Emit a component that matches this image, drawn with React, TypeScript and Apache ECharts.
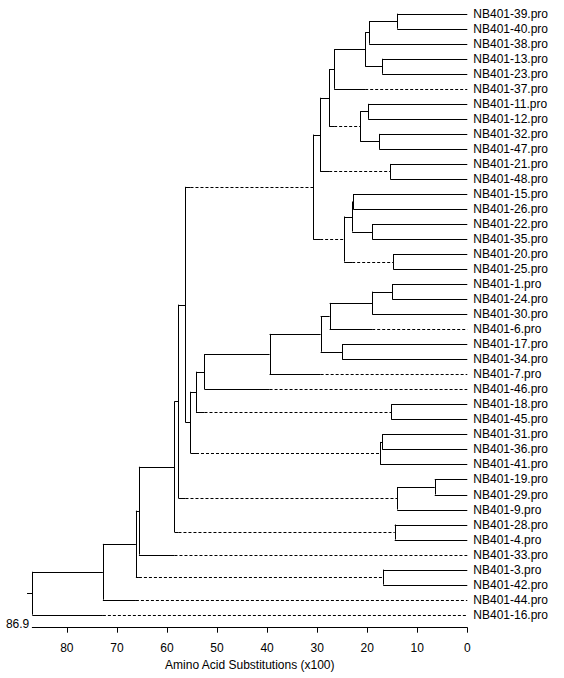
import React, { useEffect, useRef } from "react";
import * as echarts from "echarts";

// Leaf labels, top to bottom
const leaves = [
  "NB401-39.pro", "NB401-40.pro", "NB401-38.pro", "NB401-13.pro", "NB401-23.pro",
  "NB401-37.pro", "NB401-11.pro", "NB401-12.pro", "NB401-32.pro", "NB401-47.pro",
  "NB401-21.pro", "NB401-48.pro", "NB401-15.pro", "NB401-26.pro", "NB401-22.pro",
  "NB401-35.pro", "NB401-20.pro", "NB401-25.pro", "NB401-1.pro", "NB401-24.pro",
  "NB401-30.pro", "NB401-6.pro", "NB401-17.pro", "NB401-34.pro", "NB401-7.pro",
  "NB401-46.pro", "NB401-18.pro", "NB401-45.pro", "NB401-31.pro", "NB401-36.pro",
  "NB401-41.pro", "NB401-19.pro", "NB401-29.pro", "NB401-9.pro", "NB401-28.pro",
  "NB401-4.pro", "NB401-33.pro", "NB401-3.pro", "NB401-42.pro", "NB401-44.pro",
  "NB401-16.pro",
];

// Internal nodes: id, children, height (amino acid substitutions x100)
const nodeIds = [
  "A", "B", "C", "D", "E", "F", "G", "H", "I", "J", "K", "L", "M", "N", "O", "P", "Q",
  "R", "S", "T", "U", "V", "W", "X", "Y", "Z", "AA", "AB", "AC", "AD", "AE", "AF", "AG",
  "AH", "AI", "AJ", "AK", "AL", "AM", "ROOT",
];
const nodeChildren: [string, string][] = [
  ["NB401-39.pro", "NB401-40.pro"], // A
  ["A", "NB401-38.pro"], // B
  ["NB401-13.pro", "NB401-23.pro"], // C
  ["B", "C"], // D
  ["D", "NB401-37.pro"], // E
  ["NB401-11.pro", "NB401-12.pro"], // F
  ["NB401-32.pro", "NB401-47.pro"], // G
  ["F", "G"], // H
  ["E", "H"], // I
  ["NB401-21.pro", "NB401-48.pro"], // J
  ["I", "J"], // K
  ["NB401-15.pro", "NB401-26.pro"], // L
  ["NB401-22.pro", "NB401-35.pro"], // M
  ["L", "M"], // N
  ["NB401-20.pro", "NB401-25.pro"], // O
  ["N", "O"], // P
  ["K", "P"], // Q
  ["NB401-1.pro", "NB401-24.pro"], // R
  ["R", "NB401-30.pro"], // S
  ["S", "NB401-6.pro"], // T
  ["NB401-17.pro", "NB401-34.pro"], // U
  ["T", "U"], // V
  ["V", "NB401-7.pro"], // W
  ["W", "NB401-46.pro"], // X
  ["NB401-18.pro", "NB401-45.pro"], // Y
  ["X", "Y"], // Z
  ["NB401-31.pro", "NB401-36.pro"], // AA
  ["AA", "NB401-41.pro"], // AB
  ["Z", "AB"], // AC
  ["Q", "AC"], // AD
  ["NB401-19.pro", "NB401-29.pro"], // AE
  ["AE", "NB401-9.pro"], // AF
  ["AD", "AF"], // AG
  ["NB401-28.pro", "NB401-4.pro"], // AH
  ["AG", "AH"], // AI
  ["AI", "NB401-33.pro"], // AJ
  ["NB401-3.pro", "NB401-42.pro"], // AK
  ["AJ", "AK"], // AL
  ["AL", "NB401-44.pro"], // AM
  ["AM", "NB401-16.pro"], // ROOT
];
const nodeHeights = [
  14.0, 19.6, 17.0, 20.4, 26.6, 19.8, 17.6, 21.4, 27.6, 15.4, 29.4, 22.8, 19.0, 23.0, 14.8, 24.6, 30.8,
  15.0, 19.0, 27.5, 25.0, 29.3, 39.5, 52.5, 15.2, 54.2, 17.0, 17.4, 55.3, 56.3, 6.5, 14.0, 57.7,
  14.5, 58.5, 65.6, 16.8, 66.2, 72.8, 86.9,
];
// Branches drawn dashed beyond the sibling's height
const dashedBranches = [
  "NB401-37.pro", "H", "J", "O", "P", "NB401-6.pro", "NB401-7.pro", "NB401-46.pro",
  "Y", "AB", "Q", "AF", "AH", "NB401-33.pro", "AK", "NB401-44.pro", "NB401-16.pro",
];

const xTicks = [0, 10, 20, 30, 40, 50, 60, 70, 80];
const axisMax = 86.9;
const axisTitle = "Amino Acid Substitutions (x100)";

function buildSegments() {
  const height = (id: string): number => {
    const i = nodeIds.indexOf(id);
    return i >= 0 ? nodeHeights[i] : 0;
  };
  const yMemo: Record<string, number> = {};
  const yOf = (id: string): number => {
    if (yMemo[id] !== undefined) return yMemo[id];
    const li = leaves.indexOf(id);
    let y: number;
    if (li >= 0) y = li;
    else {
      const [a, b] = nodeChildren[nodeIds.indexOf(id)];
      y = (yOf(a) + yOf(b)) / 2;
    }
    yMemo[id] = y;
    return y;
  };
  const segs: [number, number, number, number, number][] = [];
  nodeIds.forEach((id, i) => {
    const h = nodeHeights[i];
    const [a, b] = nodeChildren[i];
    segs.push([h, yOf(a), h, yOf(b), 0]);
    [a, b].forEach((c, k) => {
      const sib = k === 0 ? b : a;
      const yc = yOf(c);
      const hc = height(c);
      if (dashedBranches.includes(c)) {
        const hs = height(sib);
        segs.push([h, yc, hs, yc, 0]);
        segs.push([hs, yc, hc, yc, 1]);
      } else {
        segs.push([h, yc, hc, yc, 0]);
      }
    });
  });
  const rootY = yOf("ROOT");
  segs.push([axisMax, rootY, axisMax + 1.05, rootY, 0]);
  return segs;
}

export default function App() {
  const ref = useRef<HTMLDivElement>(null);
  useEffect(() => {
    document.body.style.margin = "0";
    if (!ref.current) return;
    const chart = echarts.init(ref.current, undefined, { renderer: "svg" });
    const segs = buildSegments();
    const font = "Arial, 'Liberation Sans', sans-serif";
    chart.setOption({
      animation: false,
      backgroundColor: "#fff",
      grid: { left: 32.3, right: 96.7, top: 13.7, bottom: 63.3 },
      xAxis: {
        type: "value",
        position: "bottom",
        inverse: true,
        min: 0,
        max: axisMax,
        interval: 10,
        offset: 13,
        splitLine: { show: false },
        axisLine: { show: true, onZero: false, lineStyle: { color: "#000", width: 1 } },
        axisTick: { show: true, length: 5, customValues: xTicks, lineStyle: { color: "#000" } },
        axisLabel: {
          customValues: xTicks,
          color: "#000",
          fontSize: 12,
          fontFamily: font,
          margin: 14,
        },
        name: axisTitle,
        nameLocation: "middle",
        nameGap: 29,
        nameTextStyle: { color: "#000", fontSize: 12, fontFamily: font },
      },
      yAxis: [
        { type: "value", show: false, min: 0, max: 40, inverse: true },
        {
          type: "category",
          position: "right",
          data: leaves,
          inverse: true,
          boundaryGap: false,
          axisLine: { show: false },
          axisTick: { show: false },
          splitLine: { show: false },
          axisLabel: { interval: 0, margin: 6, color: "#000", fontSize: 12, fontFamily: font },
        },
      ],
      series: [
        {
          type: "custom",
          yAxisIndex: 0,
          data: segs,
          renderItem: (params: any, api: any) => {
            const p1 = api.coord([api.value(0), api.value(1)]);
            const p2 = api.coord([api.value(2), api.value(3)]);
            const dashed = api.value(4) === 1;
            let x1 = p1[0], y1 = p1[1], x2 = p2[0], y2 = p2[1];
            if (Math.abs(y1 - y2) < 0.01) {
              y1 = y2 = Math.round(y1) + 0.5;
            } else {
              x1 = x2 = Math.round(x1) + 0.5;
            }
            return {
              type: "line",
              shape: { x1, y1, x2, y2 },
              style: {
                stroke: "#000",
                lineWidth: 1,
                lineDash: dashed ? [3, 2] : null,
              },
            };
          },
        },
        {
          type: "custom",
          yAxisIndex: 0,
          data: [[axisMax, 40]],
          renderItem: (params: any, api: any) => {
            const p = api.coord([api.value(0), api.value(1)]);
            return {
              type: "text",
              style: {
                text: String(axisMax),
                x: p[0] - 3,
                y: p[1] + 15,
                align: "right",
                verticalAlign: "bottom",
                fill: "#000",
                font: "12px " + font,
              },
            };
          },
        },
      ],
    });
    return () => chart.dispose();
  }, []);
  return <div ref={ref} style={{ width: 564, height: 678 }} />;
}
